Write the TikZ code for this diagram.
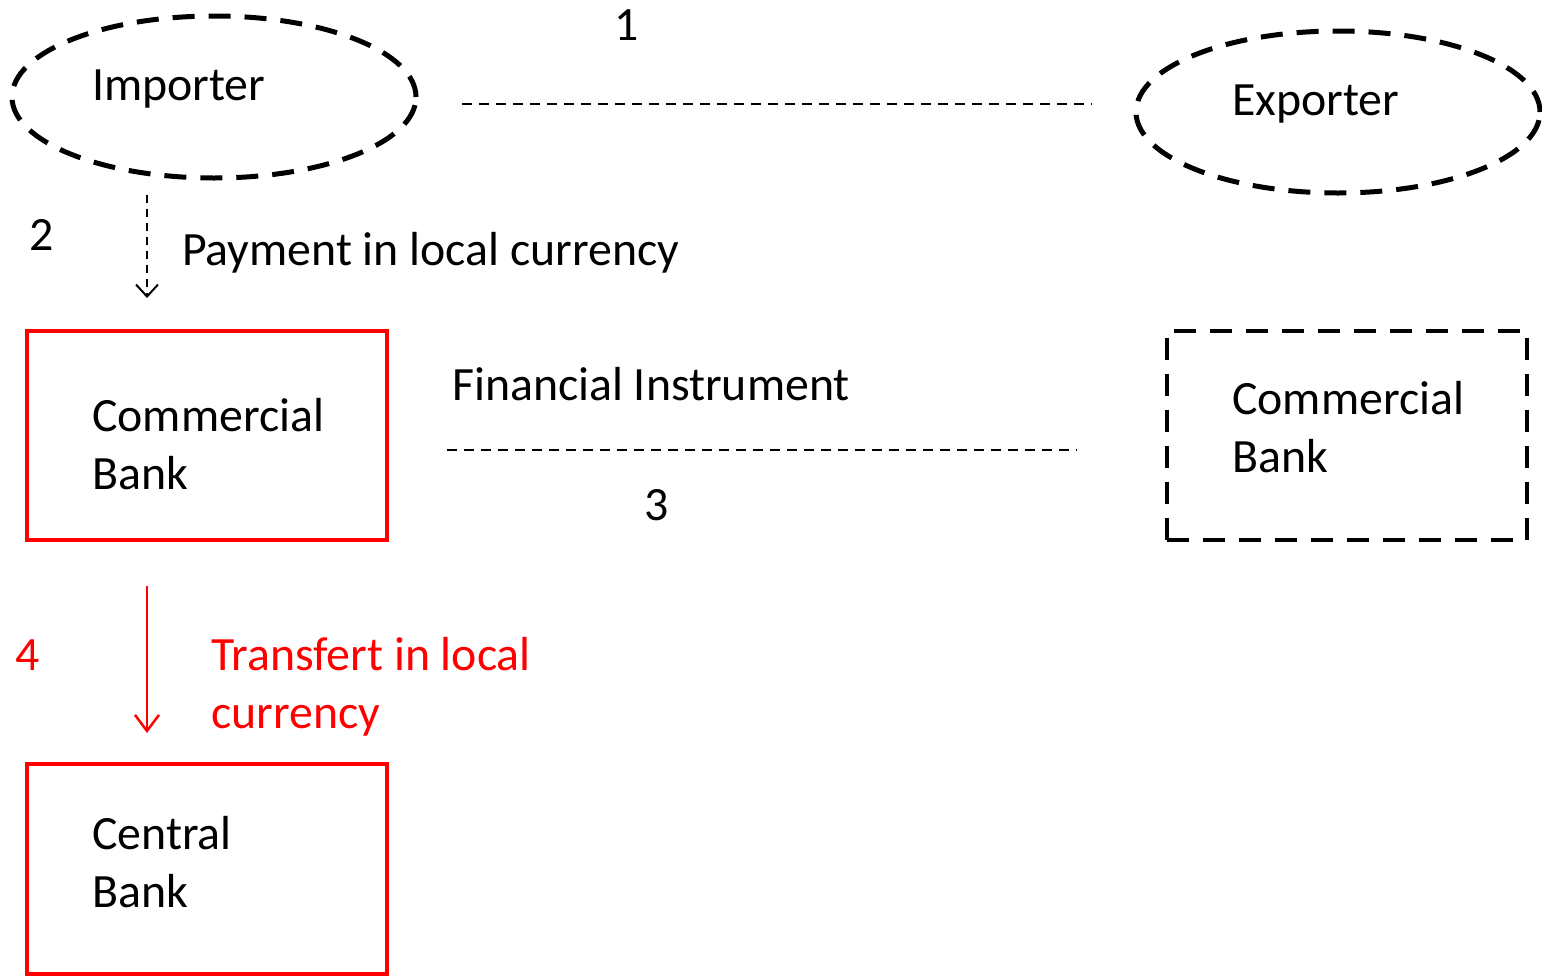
\documentclass[tikz,border=0pt]{standalone}
\usepackage{fontspec}
\setmainfont{Carlito}
\usetikzlibrary{arrows.meta,shapes.geometric}
\definecolor{myred}{RGB}{255,0,0}
\begin{document}
\begin{tikzpicture}[x=1pt,y=-1pt,
  txt/.style={anchor=base west,inner sep=0pt,font=\fontsize{47.8}{57.5}\selectfont,align=left},
  num/.style={inner sep=0pt,font=\fontsize{47.8}{57.5}\selectfont},
  party/.style={draw,ellipse,line width=5pt,dash pattern=on 22pt off 14pt,minimum width=404pt,minimum height=162pt,inner sep=0pt},
  redbox/.style={draw=myred,line width=4pt,minimum width=360pt,minimum height=209pt,inner sep=0pt},
  dashbox/.style={draw,line width=4pt,dash pattern=on 22pt off 14pt,minimum width=360pt,minimum height=209pt,inner sep=0pt},
  thindash/.style={line width=2pt,dash pattern=on 10pt off 7pt},
  barb/.style={-{Straight Barb[length=12pt,width=22pt,line width=2pt]}}
]
\useasboundingbox (0,0) rectangle (1542,975);
% parties
\node[party] (imp) at (214,97) {};
\node[party] (exp) at (1338,112) {};
\node[txt] (impt) at (92,100) {Importer};
\node[txt] (expt) at (1232,115) {Exporter};
% banks
\node[redbox] (cb) at (206.5,435) {};
\node[txt] (cbt) at (92,489) {Commercial\\Bank};
\node[dashbox] (eb) at (1347,435) {};
\node[txt] (ebt) at (1232,472) {Commercial\\Bank};
\node[redbox,minimum height=210pt] (ctr) at (206.5,869) {};
\node[txt] (ctrt) at (92,907) {Central\\Bank};
% connectors
\coordinate (l1a) at (462,104);
\coordinate (l1b) at (1092,104);
\draw[thindash] (l1a) -- (l1b);
\coordinate (l3a) at (447,450);
\coordinate (l3b) at (1077,450);
\draw[thindash] (l3a) -- (l3b);
\coordinate (a2a) at (147,195);
\coordinate (a2b) at (147,298);
\draw[line width=2pt,dash pattern=on 8pt off 6pt,barb] (a2a) -- (a2b);
\coordinate (a4a) at (147,586);
\coordinate (a4b) at (147,733);
\draw[myred,line width=2.5pt,-{Straight Barb[length=16pt,width=24pt,line width=2.5pt]}] (a4a) -- (a4b);
% labels
\node[num] (n1) at (627,25) {1};
\node[num] (n2) at (42,235) {2};
\node[num] (n3) at (657,505) {3};
\node[num,text=myred] (n4) at (28,655) {4};
\node[txt] (pay) at (182,265) {Payment in local currency};
\node[txt] (fin) at (452,400) {Financial Instrument};
\node[txt,text=myred] (tr) at (211,728) {Transfert in local\\currency};
\end{tikzpicture}
\end{document}
